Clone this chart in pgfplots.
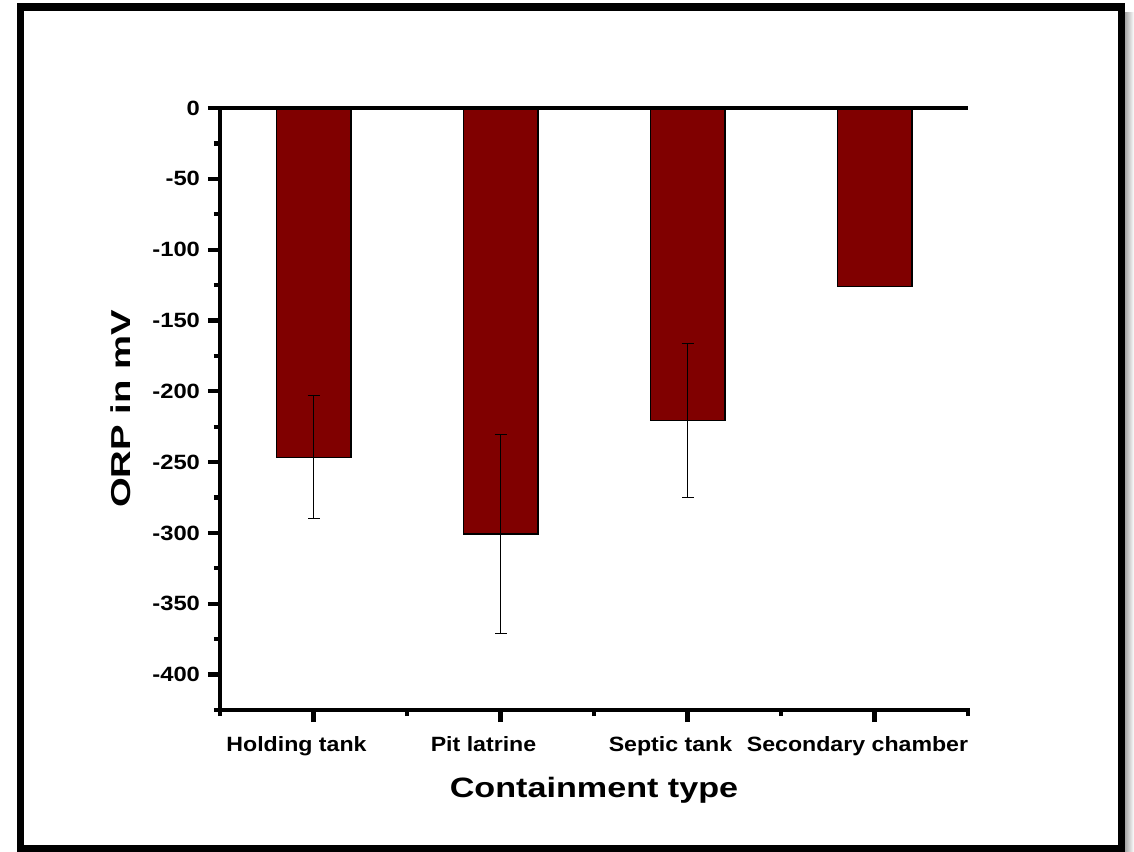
\documentclass[border=0pt]{standalone}
\usepackage{pgfplots}
\pgfplotsset{compat=1.18}
\usepackage{fontspec}
\setmainfont{Liberation Sans}
\definecolor{barred}{HTML}{800000}
\newcommand\sxnum[1]{\scalebox{1.15}[1]{#1}}
\newcommand\sxcat[1]{\scalebox{1.12}[1]{#1}}
\begin{document}
\begin{tikzpicture}
\useasboundingbox (0,0) rectangle (850.5pt,-638.25pt);
\fill[white] (0,0) rectangle (850.5pt,-638.25pt);
\shade[left color=gray!70, right color=white] (843.75pt,-9pt) rectangle (850.5pt,-638.25pt);
\draw[line width=5.6pt] (15.4pt,-5.25pt) rectangle (841.1pt,-636.4pt);
\begin{axis}[
  at={(165pt,-81pt)}, anchor=north west,
  scale only axis, width=561pt, height=451.5pt,
  xmin=0.5, xmax=4.5, ymin=-425, ymax=0,
  axis x line=bottom, axis y line=left,
  axis line style={-, line width=3pt, line cap=rect},
  clip=false,
  tick align=outside,
  major tick length=9pt, minor tick length=4.5pt,
  every tick/.append style={black, line width=3.2pt},
  xtick={1,2,3,4}, minor xtick={0.5,1.5,2.5,3.5,4.5},
  xticklabels={\sxcat{Holding tank},\sxcat{Pit latrine},\sxcat{Septic tank},\sxcat{Secondary chamber}},
  ytick={-400,-350,...,0}, minor ytick={-425,-375,...,-25},
  yticklabel={\sxnum{\pgfmathprintnumber[assume math mode=true]{\tick}}},
  ticklabel style={font=\fontsize{15.5}{18}\selectfont\bfseries},
  xticklabel style={yshift=-7.5pt, xshift=-12.75pt},
  yticklabel style={xshift=-2.5pt},
  xlabel={\scalebox{1.22}[1]{Containment type}},
  ylabel={\scalebox{1.4}[1]{ORP in mV}},
  xlabel style={font=\fontsize{21}{25}\selectfont\bfseries, at={([yshift=-65.25pt]axis description cs:0.5,0)}, anchor=base},
  ylabel style={font=\fontsize{20.5}{24}\selectfont\bfseries, at={([xshift=-67.5pt]axis description cs:0,0.5)}, anchor=base},
]
\addplot[ybar, bar width=0.4, bar shift=0pt, fill=barred, draw=black, line width=0.9pt,
  error bars/.cd, y dir=both, y explicit,
  error bar style={line width=0.75pt, black},
  error mark options={rotate=90, line width=0.75pt, black, mark size=4.5pt}]
  coordinates {(1,-246.5) +- (0,43.5) (2,-300.7) +- (0,70.3) (3,-220.5) +- (0,54.3)};
\addplot[ybar, bar width=0.4, bar shift=0pt, fill=barred, draw=black, line width=0.9pt]
  coordinates {(4,-125.8)};
\draw[line width=3pt] (axis cs:0.5,0) -- (axis cs:4.5,0);
\end{axis}
\end{tikzpicture}
\end{document}
